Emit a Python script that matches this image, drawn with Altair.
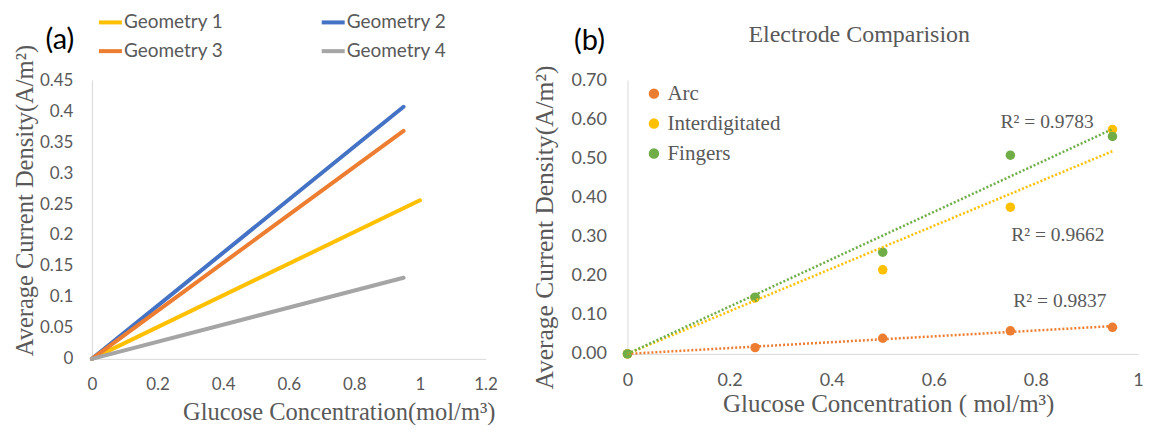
import altair as alt
import pandas as pd

# ---------------- Panel (a) data ----------------
geo_names = ["Geometry 1", "Geometry 2", "Geometry 3", "Geometry 4"]
geo_colors = ["#FFC000", "#4472C4", "#ED7D31", "#A5A5A5"]
geo_x0 = [0.0, 0.0, 0.0, 0.0]
geo_y0 = [0.0, 0.0, 0.0, 0.0]
geo_x1 = [1.0, 0.95, 0.95, 0.95]
geo_y1 = [0.256, 0.407, 0.368, 0.131]

a_x_ticks = [0, 0.2, 0.4, 0.6, 0.8, 1.0, 1.2]
a_y_ticks = [0, 0.05, 0.1, 0.15, 0.2, 0.25, 0.3, 0.35, 0.4, 0.45]

# ---------------- Panel (b) data ----------------
conc = [0, 0.25, 0.5, 0.75, 0.95]
arc = [0, 0.016, 0.040, 0.059, 0.068]
interdigitated = [0, 0.143, 0.215, 0.375, 0.574]
fingers = [0, 0.145, 0.260, 0.508, 0.556]
elec_names = ["Arc", "Interdigitated", "Fingers"]
elec_colors = ["#ED7D31", "#FFC000", "#70AD47"]

r2_text = ["R² = 0.9783", "R² = 0.9662", "R² = 0.9837"]
r2_x = [0.822, 0.843, 0.847]
r2_y = [0.593, 0.305, 0.135]

b_x_ticks = [0, 0.2, 0.4, 0.6, 0.8, 1.0]
b_y_ticks = [0, 0.1, 0.2, 0.3, 0.4, 0.5, 0.6, 0.7]

# ---------------- tables ----------------
rows_a = []
for n, xa, ya, xb, yb in zip(geo_names, geo_x0, geo_y0, geo_x1, geo_y1):
    rows_a.append({"geometry": n, "x": xa, "y": ya})
    rows_a.append({"geometry": n, "x": xb, "y": yb})
df_a = pd.DataFrame(rows_a)

rows_b = []
for n, vals in zip(elec_names, [arc, interdigitated, fingers]):
    for xv, yv in zip(conc, vals):
        rows_b.append({"electrode": n, "x": xv, "y": yv})
df_b = pd.DataFrame(rows_b)

df_r2 = pd.DataFrame({"t": r2_text, "x": r2_x, "y": r2_y})

GRAY = "#595959"
AXIS = "#D9D9D9"
SANS = "Lato"
SERIF = "Liberation Serif"


def axis(values, fmt, title, tsize, tx, ty, lsize, lpad, bottom):
    kw = dict(values=values, format=fmt, title=title,
              titleFont=SERIF, titleFontSize=tsize, titleColor=GRAY, titleFontWeight="normal",
              titleX=tx, titleY=ty, titleBaseline="middle", titleAlign="center",
              labelFont=SANS, labelFontSize=lsize, labelColor=GRAY, labelPadding=lpad,
              labelFlush=False, labelOverlap=False,
              ticks=False, tickSize=0, grid=False, domainColor=AXIS, domainWidth=1)
    if bottom:
        kw["labelBaseline"] = "middle"
    return alt.Axis(**kw)


# ---------------- Panel (a) ----------------
ax_a_x = axis(a_x_ticks, ".1~f", "Glucose Concentration(mol/m³)", 24.5, 247, 54, 17, 26, True)
ax_a_y = axis(a_y_ticks, ".2~f", "Average Current Density(A/m²)", 24.5, -66, 120, 17, 19, False)

lines_a = alt.Chart(df_a).mark_line(strokeWidth=4, strokeCap="round").encode(
    x=alt.X("x:Q", scale=alt.Scale(domain=[0, 1.2], nice=False), axis=ax_a_x),
    y=alt.Y("y:Q", scale=alt.Scale(domain=[0, 0.45], nice=False), axis=ax_a_y),
    color=alt.Color("geometry:N",
                    scale=alt.Scale(domain=geo_names, range=geo_colors),
                    legend=alt.Legend(title=None, orient="none", legendX=5, legendY=-71.5,
                                      direction="horizontal", columns=2,
                                      symbolType="stroke", symbolStrokeWidth=4,
                                      symbolSize=529, labelFont=SANS, labelFontSize=19,
                                      labelColor=GRAY, columnPadding=90, rowPadding=5,
                                      labelOffset=0, padding=0)),
    detail="geometry:N",
)

lab_a = alt.Chart(alt.Data(values=[{"t": "(a)"}])).mark_text(
    font=SANS, fontSize=29, color="black", align="center", baseline="middle"
).encode(x=alt.value(-32), y=alt.value(-40), text="t:N")

chart_a = alt.layer(lines_a, lab_a).properties(width=394, height=279)

# ---------------- Panel (b) ----------------
ax_b_x = axis(b_x_ticks, ".1~f", "Glucose Concentration ( mol/m³)", 25, 261, 50, 18, 27, True)
ax_b_y = axis(b_y_ticks, ".2f", "Average Current Density(A/m²)", 25.5, -83, 147, 18, 21, False)

xscale_b = alt.Scale(domain=[0, 1], nice=False)
yscale_b = alt.Scale(domain=[0, 0.7], nice=False)
elec_scale = alt.Scale(domain=elec_names, range=elec_colors)


def enc_x():
    return alt.X("x:Q", scale=xscale_b, axis=ax_b_x)


def enc_y():
    return alt.Y("y:Q", scale=yscale_b, axis=ax_b_y)


points_b = alt.Chart(df_b).mark_point(filled=True, size=90, opacity=1).encode(
    x=enc_x(),
    y=enc_y(),
    color=alt.Color("electrode:N", scale=elec_scale,
                    legend=alt.Legend(title=None, orient="none", legendX=16, legendY=3,
                                      symbolType="circle", symbolSize=80,
                                      labelFont=SERIF, labelFontSize=21, labelColor=GRAY,
                                      rowPadding=8, labelOffset=3, padding=0)),
)

# through-origin least-squares trendlines computed from the data above
trend_b = alt.Chart(df_b).transform_calculate(
    xy="datum.x * datum.y", xx="datum.x * datum.x"
).transform_joinaggregate(
    sxy="sum(xy)", sxx="sum(xx)", groupby=["electrode"]
).transform_calculate(
    y="datum.sxy / datum.sxx * datum.x"
).mark_line(strokeDash=[2, 2], strokeWidth=2.5).encode(
    x=enc_x(),
    y=enc_y(),
    color=alt.Color("electrode:N", scale=elec_scale, legend=None),
    detail="electrode:N",
)

r2_b = alt.Chart(df_r2).mark_text(font=SERIF, fontSize=19.5, color=GRAY,
                                  align="center", baseline="middle").encode(
    x=enc_x(),
    y=enc_y(),
    text="t:N",
)

title_b = alt.Chart(alt.Data(values=[{"t": "Electrode Comparision"}])).mark_text(
    font=SERIF, fontSize=24, color=GRAY, align="center", baseline="middle"
).encode(x=alt.value(232), y=alt.value(-45), text="t:N")

lab_b = alt.Chart(alt.Data(values=[{"t": "(b)"}])).mark_text(
    font=SANS, fontSize=29, color="black", align="center", baseline="middle"
).encode(x=alt.value(-38), y=alt.value(-39), text="t:N")

chart_b = alt.layer(points_b, trend_b, r2_b, title_b, lab_b).properties(width=511, height=274)

chart = alt.hconcat(chart_a, chart_b, spacing=34).resolve_scale(
    color="independent"
).resolve_legend(color="independent").properties(
    padding={"left": 4, "top": 0, "right": 0, "bottom": 0}
).configure_view(strokeWidth=0)

chart.save("out.html", embed_options={"renderer": "svg", "actions": False})
